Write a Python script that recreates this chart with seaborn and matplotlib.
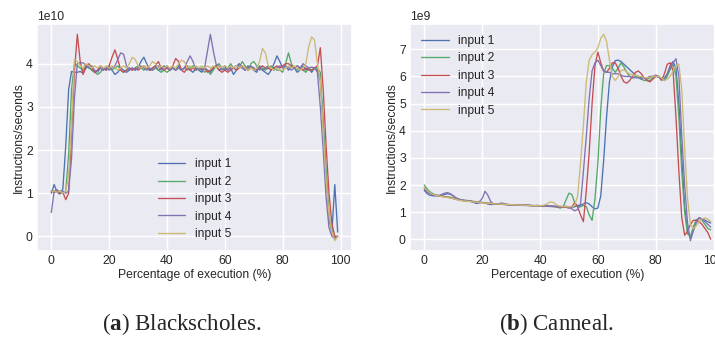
import matplotlib
matplotlib.use("Agg")
import numpy as np
import pandas as pd
import seaborn as sns
import matplotlib.pyplot as plt

# ---------------- data ----------------
pct = list(range(100))
inputs = ["input 1", "input 2", "input 3", "input 4", "input 5"]
xticks = [0, 20, 40, 60, 80, 100]
yticks_a = [0, 1, 2, 3, 4]          # x 1e10
yticks_b = [0, 1, 2, 3, 4, 5, 6, 7]  # x 1e9
scale_a = 1e10
scale_b = 1e9

# (a) Blackscholes, instructions/second in units of 1e10
bs_in1 = [1.00, 1.20, 1.02, 0.98, 1.10, 2.10, 3.40, 3.82, 3.80, 3.80,
          3.82, 3.78, 3.90, 3.95, 3.85, 3.80, 3.85, 3.90, 3.85, 3.90,
          3.95, 3.85, 3.75, 3.80, 3.90, 3.85, 3.80, 3.85, 3.90, 3.85,
          3.90, 4.05, 4.15, 4.00, 3.85, 3.90, 3.95, 3.85, 3.88, 3.95,
          3.90, 3.85, 3.90, 3.85, 3.95, 3.85, 3.90, 3.95, 3.85, 3.80,
          3.90, 3.85, 3.80, 3.90, 3.85, 3.80, 3.90, 3.95, 3.85, 3.90,
          3.95, 3.85, 3.90, 3.75, 3.85, 4.00, 3.90, 3.85, 3.95, 3.90,
          3.85, 3.80, 3.95, 3.85, 3.80, 3.75, 3.85, 4.00, 4.18, 4.05,
          3.90, 3.95, 3.85, 3.95, 3.90, 3.80, 3.85, 3.95, 3.85, 3.90,
          3.80, 3.90, 3.85, 3.60, 2.60, 1.40, 0.40, 0.10, 1.20, 0.10]
bs_in2 = [1.05, 1.05, 1.02, 1.05, 1.00, 1.05, 1.90, 3.40, 4.00, 3.95,
          3.90, 3.85, 3.95, 3.90, 3.85, 3.80, 3.75, 3.80, 3.90, 3.85,
          3.90, 3.85, 3.90, 3.95, 3.85, 3.80, 3.85, 3.90, 3.85, 3.90,
          3.95, 3.90, 3.85, 3.90, 3.85, 3.85, 3.90, 3.85, 3.80, 3.85,
          3.80, 3.85, 3.90, 3.85, 3.90, 3.85, 3.90, 3.85, 3.90, 3.95,
          3.90, 3.85, 3.90, 3.80, 3.85, 3.75, 3.85, 3.95, 4.00, 3.90,
          3.85, 3.90, 4.00, 3.90, 3.95, 3.90, 4.05, 3.95, 3.85, 4.00,
          4.05, 3.95, 3.85, 3.90, 3.85, 3.90, 3.95, 3.90, 3.85, 3.85,
          3.80, 4.00, 4.25, 4.00, 3.90, 3.85, 3.90, 3.85, 3.80, 3.90,
          3.85, 3.90, 3.90, 3.80, 2.60, 1.50, 0.50, 0.10, -0.05, 0.00]
bs_in3 = [1.05, 1.02, 1.05, 1.00, 1.02, 0.85, 1.00, 2.40, 3.80, 4.68,
          4.05, 3.75, 3.95, 4.00, 3.90, 3.80, 3.85, 3.95, 3.90, 3.85,
          3.95, 4.15, 4.32, 4.10, 3.85, 3.80, 3.85, 3.90, 3.85, 3.90,
          3.85, 3.90, 3.95, 3.90, 3.85, 3.90, 3.95, 4.05, 3.90, 3.85,
          3.90, 3.85, 3.95, 4.12, 4.05, 3.85, 3.80, 3.90, 3.85, 3.90,
          3.85, 3.90, 3.85, 3.90, 3.80, 3.85, 3.90, 3.95, 3.85, 3.80,
          3.85, 3.80, 3.85, 3.90, 3.85, 3.90, 3.95, 3.90, 3.85, 3.90,
          3.90, 3.85, 3.90, 3.95, 3.90, 3.90, 3.85, 3.90, 3.95, 3.90,
          3.95, 4.00, 4.00, 3.95, 3.90, 3.95, 3.90, 3.85, 3.90, 3.85,
          3.85, 3.90, 3.95, 4.37, 3.40, 2.10, 1.00, 0.30, 0.00, 0.00]
bs_in4 = [0.55, 1.05, 1.08, 1.02, 1.05, 1.00, 1.05, 1.80, 3.20, 4.00,
          4.02, 4.02, 3.95, 3.90, 3.95, 3.85, 3.80, 3.90, 3.85, 3.90,
          3.85, 3.90, 3.95, 4.10, 4.25, 4.22, 3.95, 3.85, 3.90, 3.85,
          3.90, 3.95, 3.90, 3.85, 3.90, 3.85, 3.90, 3.95, 3.85, 3.90,
          3.95, 3.85, 3.90, 3.85, 3.90, 3.85, 3.90, 4.05, 4.18, 4.05,
          3.85, 3.90, 3.85, 3.90, 4.30, 4.68, 4.30, 3.98, 3.95, 3.85,
          3.90, 3.85, 3.95, 3.90, 3.95, 4.00, 3.90, 3.85, 3.90, 3.95,
          3.90, 3.85, 3.90, 3.85, 3.90, 3.95, 3.90, 3.85, 3.90, 3.95,
          3.90, 3.95, 3.90, 3.85, 3.90, 3.95, 3.90, 4.00, 3.95, 3.90,
          3.92, 3.90, 3.80, 3.00, 2.00, 0.90, 0.20, 0.00, -0.05, 0.00]
bs_in5 = [1.05, 1.05, 1.02, 1.05, 1.00, 1.05, 1.40, 2.60, 4.10, 4.05,
          3.95, 3.90, 4.00, 3.95, 3.90, 3.95, 3.90, 3.95, 3.90, 3.95,
          3.90, 3.95, 3.90, 3.85, 3.90, 3.95, 3.90, 4.00, 4.15, 4.10,
          3.95, 3.90, 3.95, 3.90, 3.95, 4.05, 4.00, 3.90, 3.95, 3.90,
          3.95, 3.90, 3.95, 3.90, 4.00, 4.08, 4.05, 3.90, 3.95, 3.90,
          3.95, 3.90, 3.95, 3.90, 3.95, 3.90, 3.95, 3.90, 3.95, 3.90,
          3.95, 3.90, 3.95, 3.90, 3.95, 3.90, 3.95, 3.90, 3.85, 3.90,
          3.85, 3.90, 4.05, 4.35, 4.25, 3.95, 3.90, 3.85, 3.90, 3.85,
          3.85, 3.90, 3.95, 3.90, 3.95, 3.90, 3.85, 3.90, 4.00, 4.40,
          4.62, 4.55, 4.00, 3.60, 2.40, 1.30, 0.50, 0.10, -0.10, 0.00]

# (b) Canneal, instructions/second in units of 1e9
cn_in1 = [1.80, 1.68, 1.62, 1.60, 1.60, 1.60, 1.62, 1.65, 1.68, 1.66,
          1.60, 1.52, 1.47, 1.44, 1.42, 1.42, 1.40, 1.37, 1.32, 1.34,
          1.36, 1.34, 1.30, 1.28, 1.29, 1.30, 1.32, 1.33, 1.30, 1.27,
          1.26, 1.27, 1.28, 1.27, 1.26, 1.27, 1.26, 1.25, 1.24, 1.25,
          1.24, 1.23, 1.24, 1.23, 1.22, 1.22, 1.21, 1.20, 1.19, 1.18,
          1.17, 1.18, 1.20, 1.25, 1.25, 1.30, 1.35, 1.30, 1.20, 1.12,
          1.15, 1.60, 2.90, 4.50, 5.80, 6.35, 6.58, 6.60, 6.55, 6.45,
          6.35, 6.25, 6.15, 6.05, 6.00, 5.95, 5.95, 5.90, 5.95, 6.00,
          6.00, 5.98, 5.90, 5.88, 6.10, 6.40, 6.55, 6.30, 5.00, 3.00,
          1.20, 0.30, 0.05, 0.40, 0.70, 0.78, 0.75, 0.70, 0.65, 0.60]
cn_in2 = [2.00, 1.85, 1.75, 1.68, 1.63, 1.60, 1.58, 1.57, 1.56, 1.55,
          1.52, 1.50, 1.47, 1.45, 1.44, 1.43, 1.42, 1.40, 1.38, 1.37,
          1.36, 1.35, 1.33, 1.32, 1.31, 1.30, 1.30, 1.29, 1.28, 1.27,
          1.27, 1.26, 1.26, 1.25, 1.25, 1.25, 1.24, 1.24, 1.23, 1.23,
          1.23, 1.22, 1.22, 1.21, 1.21, 1.20, 1.18, 1.15, 1.20, 1.45,
          1.70, 1.65, 1.35, 1.20, 1.20, 1.25, 1.20, 0.90, 0.70, 1.50,
          2.80, 4.80, 6.10, 6.40, 6.40, 6.30, 6.15, 6.30, 6.50, 6.35,
          6.15, 6.00, 5.95, 6.00, 5.95, 5.90, 5.85, 5.85, 5.85, 5.95,
          6.00, 6.00, 5.90, 5.85, 6.00, 6.25, 6.45, 6.00, 4.50, 2.50,
          1.00, 0.20, 0.10, 0.45, 0.70, 0.78, 0.70, 0.55, 0.40, 0.35]
cn_in3 = [1.90, 1.78, 1.70, 1.65, 1.62, 1.60, 1.58, 1.57, 1.55, 1.53,
          1.50, 1.47, 1.45, 1.43, 1.42, 1.41, 1.40, 1.38, 1.37, 1.36,
          1.35, 1.34, 1.33, 1.32, 1.31, 1.30, 1.29, 1.29, 1.28, 1.28,
          1.27, 1.27, 1.26, 1.26, 1.25, 1.25, 1.25, 1.24, 1.24, 1.24,
          1.23, 1.23, 1.22, 1.22, 1.21, 1.21, 1.20, 1.20, 1.19, 1.18,
          1.15, 1.20, 1.35, 1.20, 0.90, 0.65, 1.80, 3.20, 5.00, 6.40,
          6.90, 6.50, 6.20, 6.15, 6.30, 6.50, 6.50, 6.30, 6.00, 5.80,
          5.75, 5.85, 6.00, 6.15, 6.20, 6.10, 5.95, 5.85, 5.80, 5.90,
          6.00, 6.00, 5.85, 6.10, 6.45, 6.50, 6.20, 4.50, 2.50, 0.80,
          0.15, 0.30, 0.55, 0.70, 0.70, 0.65, 0.55, 0.40, 0.25, 0.00]
cn_in4 = [1.85, 1.75, 1.68, 1.65, 1.63, 1.62, 1.65, 1.70, 1.72, 1.68,
          1.60, 1.52, 1.48, 1.45, 1.43, 1.42, 1.40, 1.36, 1.33, 1.38,
          1.50, 1.77, 1.62, 1.38, 1.30, 1.31, 1.30, 1.32, 1.30, 1.28,
          1.27, 1.27, 1.26, 1.26, 1.25, 1.25, 1.25, 1.24, 1.24, 1.24,
          1.23, 1.23, 1.22, 1.22, 1.22, 1.21, 1.20, 1.20, 1.21, 1.22,
          1.18, 1.12, 1.05, 1.10, 1.30, 2.50, 3.80, 5.20, 6.20, 6.50,
          6.60, 6.40, 6.20, 6.15, 6.15, 6.10, 6.10, 6.10, 6.05, 6.00,
          6.00, 6.00, 5.95, 5.95, 5.95, 5.90, 5.95, 5.95, 6.00, 6.00,
          6.05, 6.00, 5.90, 5.95, 6.10, 6.30, 6.50, 6.65, 6.00, 3.80,
          2.00, 0.60, -0.05, 0.30, 0.60, 0.80, 0.75, 0.65, 0.55, 0.45]
cn_in5 = [1.90, 1.80, 1.72, 1.66, 1.62, 1.60, 1.58, 1.56, 1.54, 1.52,
          1.50, 1.47, 1.44, 1.42, 1.41, 1.40, 1.39, 1.38, 1.37, 1.36,
          1.35, 1.34, 1.33, 1.32, 1.31, 1.30, 1.30, 1.29, 1.29, 1.28,
          1.28, 1.27, 1.27, 1.26, 1.26, 1.25, 1.25, 1.25, 1.24, 1.24,
          1.24, 1.25, 1.28, 1.35, 1.38, 1.33, 1.25, 1.22, 1.21, 1.20,
          1.20, 1.20, 1.25, 1.60, 2.80, 4.20, 5.80, 6.60, 6.80, 6.90,
          7.05, 7.40, 7.55, 7.30, 6.60, 6.00, 5.85, 6.00, 6.20, 6.25,
          6.15, 6.10, 6.05, 6.05, 6.00, 6.00, 5.95, 5.95, 5.95, 6.00,
          6.00, 6.00, 5.95, 5.85, 5.90, 6.00, 6.20, 6.40, 6.45, 5.50,
          3.30, 1.50, 0.55, 0.40, 0.50, 0.65, 0.75, 0.78, 0.75, 0.65]

bs_series = [bs_in1, bs_in2, bs_in3, bs_in4, bs_in5]
cn_series = [cn_in1, cn_in2, cn_in3, cn_in4, cn_in5]


def long_frame(series, scale):
    rows = []
    for name, vals in zip(inputs, series):
        for p, v in zip(pct, vals):
            rows.append({"pct": p, "ips": v * scale, "input": name})
    return pd.DataFrame(rows)


df_a = long_frame(bs_series, scale_a)
df_b = long_frame(cn_series, scale_b)

# ---------------- style ----------------
sns.set_theme(style="darkgrid")
plt.rcParams["font.family"] = ["Liberation Sans", "DejaVu Sans"]
plt.rcParams["mathtext.fontset"] = "custom"
plt.rcParams["mathtext.rm"] = "Liberation Serif"
plt.rcParams["mathtext.bf"] = "Liberation Serif:bold"

palette = sns.color_palette("deep6")[:5]
FS = 8.7

fig = plt.figure(figsize=(7.15, 3.4), dpi=100)
ax1 = fig.add_axes([0.0517, 0.2618, 0.4406, 0.6676])
ax2 = fig.add_axes([0.5734, 0.2618, 0.4406, 0.6676])

for ax, df, yt, sc, loc in [(ax1, df_a, yticks_a, scale_a, "lower center"),
                            (ax2, df_b, yticks_b, scale_b, "upper left")]:
    sns.lineplot(data=df, x="pct", y="ips", hue="input", palette=palette,
                 linewidth=0.95, ax=ax)
    ax.set_xticks(xticks)
    ax.set_yticks([v * sc for v in yt])
    ax.tick_params(labelsize=FS, length=0, pad=3)
    ax.yaxis.get_offset_text().set_fontsize(FS)
    ax.set_xlabel("Percentage of execution (%)", fontsize=FS, labelpad=1)
    ax.set_ylabel("Instructions/seconds", fontsize=FS, labelpad=1)
    handles, labels = ax.get_legend_handles_labels()
    ax.legend(handles=handles, labels=labels, loc=loc, fontsize=FS,
              frameon=False, handlelength=2.3, handletextpad=0.8,
              labelspacing=0.45)

fig.text(0.2545, 0.0294, r"($\mathbf{a}$) Blackscholes.", ha="center",
         va="baseline", fontsize=16.5, family="Liberation Serif")
fig.text(0.7776, 0.0294, r"($\mathbf{b}$) Canneal.", ha="center",
         va="baseline", fontsize=16.5, family="Liberation Serif")

fig.savefig("out.png", dpi=100)
